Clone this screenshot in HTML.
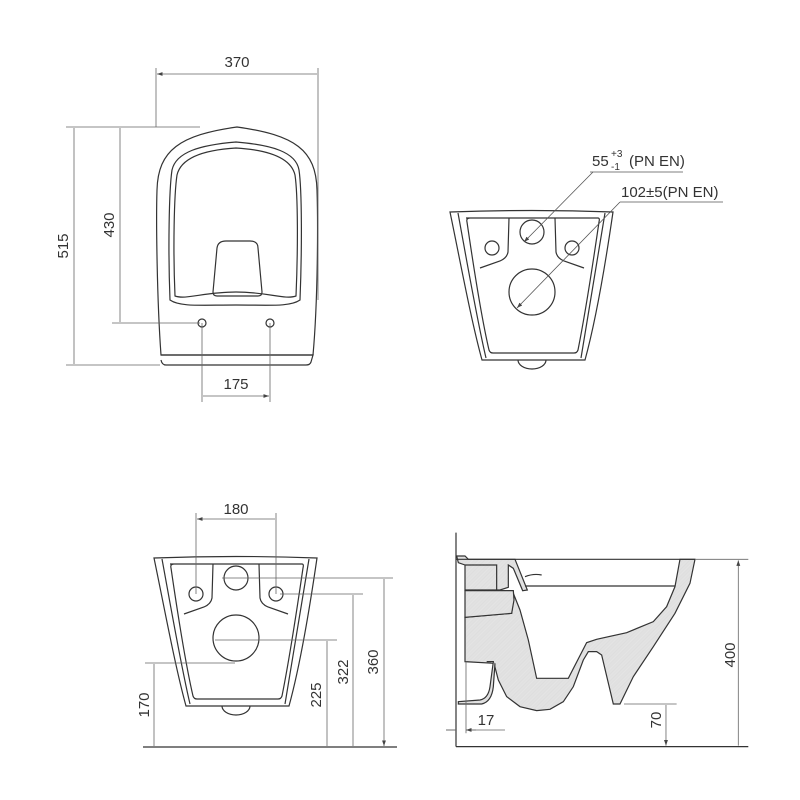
<!DOCTYPE html>
<html><head><meta charset="utf-8"><style>
html,body{margin:0;padding:0;background:#fff}
svg{display:block}
text{font-family:"Liberation Sans",Arial,sans-serif;fill:#333;font-size:15px}
</style></head><body>
<svg width="800" height="800" viewBox="0 0 800 800" xmlns="http://www.w3.org/2000/svg">
<defs>
<pattern id="h" patternUnits="userSpaceOnUse" width="3" height="3" patternTransform="rotate(45)">
<rect width="3" height="3" fill="#ececec"/><line x1="0" y1="0" x2="0" y2="3" stroke="#a0a0a0" stroke-width="0.9"/>
</pattern>
<marker id="a" viewBox="0 0 10 10" refX="10" refY="5" markerWidth="7" markerHeight="7" orient="auto-start-reverse"><path d="M0,1.5 L10,5 L0,8.5Z" fill="#444"/></marker>
<g id="back" fill="none" stroke="#333" stroke-width="1.2">
<path d="M450,212 Q532,209 613,212 C606,260 596,320 585,360 L482,360 C471,320 460,260 450,212 Z"/>
<path d="M458,213 C467,262 477,320 486,358 M605,213 C597,262 587,320 581,358"/>
<path d="M466,218 L598,218 Q600,218 599,222 C592,270 584,320 578,350 Q577,353 574,353 L493,353 Q490,353 489,350 C482,320 474,270 467,222 Q466,218 470,218 Z"/>
<path d="M509,218 L508,252 Q507,258 500,261 L480,268 M555,218 L556,252 Q557,258 564,261 L584,268"/>
<circle cx="532" cy="232" r="12"/>
<circle cx="492" cy="248" r="7"/>
<circle cx="572" cy="248" r="7"/>
<circle cx="532" cy="292" r="23"/>
<path d="M518,360 A14,9 0 0 0 546,360"/>
</g>
</defs>

<!-- TOP LEFT -->
<g fill="none" stroke="#333" stroke-width="1.2">
<path d="M161,355 C157,300 156,220 157,190 C158,150 180,135 237,127 C295,135 316,150 317,190 C318,220 318,300 313,355 Z"/>
<path d="M161,355 L313,355 L311,362 Q310,365 306,365 L166,365 Q162,365 161,360"/>
<path d="M170,300 C168,250 169,190 172,170 C176,152 200,145 236,142 C272,145 296,152 299,170 C302,190 302,250 300,300 C290,307 270,305 236,305 C200,305 180,307 170,300Z"/>
<path d="M175,296 C173,250 174,195 177,175 C181,158 203,150 236,148 C269,150 291,158 295,175 C298,195 298,250 296,296 C285,300 268,292 236,292 C204,292 186,300 175,296Z"/>
<path d="M213,292 L217,248 Q218,241 226,241 L250,241 Q258,241 258,248 L262,292 Q262,296 258,296 L217,296 Q213,296 213,292Z"/>
<circle cx="202" cy="323" r="4"/><circle cx="270" cy="323" r="4"/>
</g>
<g stroke="#666" stroke-width="0.8" fill="none">
<path d="M156,68V127 M318,68V300 M66,127H200 M66,365H160 M112,323H200 M202,323V402 M270,323V402"/>
<path d="M157,74H317 M74,128V364 M120,128V322 M203,396H269" marker-start="url(#a)" marker-end="url(#a)"/>
</g>
<text x="237" y="67" text-anchor="middle">370</text>
<text x="236" y="389" text-anchor="middle">175</text>
<text transform="translate(68,246) rotate(-90)" text-anchor="middle">515</text>
<text transform="translate(114,225) rotate(-90)" text-anchor="middle">430</text>

<!-- TOP RIGHT -->
<use href="#back"/>
<g stroke="#555" stroke-width="0.8" fill="none">
<path d="M590,172H683 M620,202H723"/>
<path d="M593,172L524,242" marker-end="url(#a)"/>
<path d="M620,202L517,308" marker-end="url(#a)"/>
</g>
<text x="592" y="166">55</text>
<text x="611" y="157" style="font-size:10px">+3</text>
<text x="611" y="170" style="font-size:10px">-1</text>
<text x="629" y="166">(PN EN)</text>
<text x="621" y="197">102±5(PN EN)</text>

<!-- BOTTOM LEFT -->
<use href="#back" transform="translate(-296,346)"/>
<g stroke="#666" stroke-width="0.8" fill="none">
<path d="M196,513V594 M276,513V594 M145,663H235 M215,640H337 M280,594H363 M222,578H393"/>
<path d="M197,519H275 M154,664V746 M327,641V746 M353,595V746 M384,579V746" marker-start="url(#a)" marker-end="url(#a)"/>
</g>
<path d="M143,747H397" stroke="#333" stroke-width="1.3"/>
<text x="236" y="514" text-anchor="middle">180</text>
<text transform="translate(149,705) rotate(-90)" text-anchor="middle">170</text>
<text transform="translate(321,695) rotate(-90)" text-anchor="middle">225</text>
<text transform="translate(348,672) rotate(-90)" text-anchor="middle">322</text>
<text transform="translate(378,662) rotate(-90)" text-anchor="middle">360</text>

<!-- BOTTOM RIGHT -->
<g transform="translate(440,500) scale(0.3333)">
<path vector-effect="non-scaling-stroke" fill="url(#h)" stroke="#333" stroke-width="1.2"
 d="M720,178 L765,178 L750,250 L705,340 L640,440 L580,530 L540,612 L520,612 L485,465 L470,455 L445,455 L430,480 L400,560 L370,605 L330,628 L290,632 L240,620 L200,590 L175,540 L162,490 L75,485 L75,352 L215,340 L222,285 L240,330 L265,420 L290,535 L385,535 L440,428 L470,418 L560,398 L640,365 L680,320 L705,260 Z"/>
<path vector-effect="non-scaling-stroke" fill="url(#h)" stroke="#333" stroke-width="1.2"
 d="M50,168 L75,168 L85,178 L225,178 L262,270 L248,272 L220,205 L205,195 L205,262 L180,270 L75,270 L75,195 L55,188 Z"/>
<path vector-effect="non-scaling-stroke" fill="url(#h)" stroke="#333" stroke-width="1.2"
 d="M75,272 L220,272 L222,300 L215,340 L75,352 Z"/>
<path vector-effect="non-scaling-stroke" fill="url(#h)" stroke="#333" stroke-width="1.2"
 d="M140,485 L160,485 L150,560 Q145,595 120,600 L55,605 L55,612 L125,612 Q155,605 160,560 L165,490"/>
<g fill="none" stroke="#333" stroke-width="1.2">
<path vector-effect="non-scaling-stroke" d="M48,98 V740 M48,178 H765 M255,258 H705 M75,195 H170 V270 M255,230 Q280,220 305,225 M48,740 H925"/>
</g>
<g fill="none" stroke="#666" stroke-width="0.8">
<path vector-effect="non-scaling-stroke" d="M765,178 H925 M552,612 H710 M78,485 V700 M18,690 H48 M78,690 H195"/>
<path vector-effect="non-scaling-stroke" d="M895,181 V737 M678,615 V737" marker-start="url(#a)" marker-end="url(#a)"/>
<path vector-effect="non-scaling-stroke" d="M18,690 H48 M108,690 H78" marker-end="url(#a)"/>
</g>
</g>
<text x="486" y="725" text-anchor="middle">17</text>
<text transform="translate(661,720) rotate(-90)" text-anchor="middle">70</text>
<text transform="translate(735,655) rotate(-90)" text-anchor="middle">400</text>
</svg>
</body></html>
